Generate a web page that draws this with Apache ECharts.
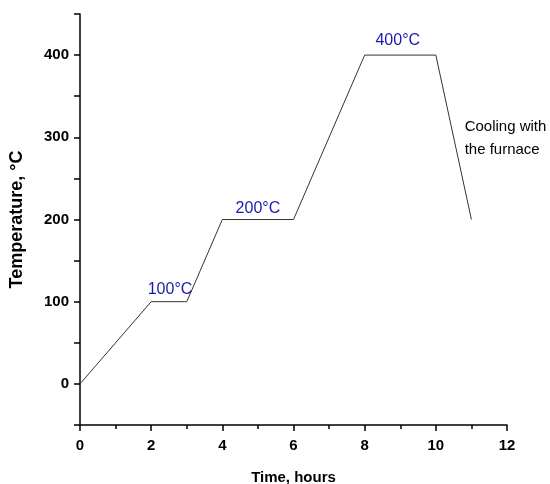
<!DOCTYPE html>
<html>
<head>
<meta charset="utf-8">
<script src="https://cdn.jsdelivr.net/npm/echarts@6/dist/echarts.min.js"></script>
<style>
  html, body { margin: 0; padding: 0; background: #fff; }
  #chart { width: 550px; height: 484px; }
</style>
</head>
<body>
<div id="chart"></div>
<script>
// heating schedule: time (hours) vs temperature (°C)
const timeHours = [0, 2, 3, 4, 6, 8, 10, 11]
const temperature = [0, 100, 100, 200, 200, 400, 400, 200]

// annotations: [x, y, text]
const stageLabels = [
  [2.53, 115, '100°C'],
  [5.0, 213, '200°C'],
  [8.93, 418, '400°C']
]
const coolingNote = [10.81, 299, 'Cooling with\nthe furnace']

const font = 'Liberation Sans, Arial, sans-serif'

const chart = echarts.init(document.getElementById('chart'))
const option = {
  animation: false,
  grid: { left: 80, right: 43, top: 14, bottom: 59, outerBoundsMode: 'none' },
  xAxis: {
    type: 'value',
    min: 0,
    max: 12,
    interval: 2,
    name: 'Time, hours',
    nameLocation: 'middle',
    nameGap: 45,
    nameTextStyle: { fontFamily: font, fontWeight: 'bold', fontSize: 15, color: '#000' },
    axisLine: { show: true, onZero: false, lineStyle: { color: '#000', width: 1.5 } },
    axisTick: { show: true, length: 6, lineStyle: { color: '#000', width: 1.5 } },
    minorTick: { show: true, splitNumber: 2, length: 4, lineStyle: { color: '#000', width: 1.5 } },
    splitLine: { show: false },
    axisLabel: { fontFamily: font, fontWeight: 'bold', fontSize: 15, color: '#000', margin: 13 }
  },
  yAxis: {
    type: 'value',
    min: -50,
    max: 450,
    interval: 50,
    name: 'Temperature, °C',
    nameLocation: 'middle',
    nameGap: 54,
    nameTextStyle: { fontFamily: font, fontWeight: 'bold', fontSize: 18, color: '#000' },
    axisLine: { show: true, onZero: false, lineStyle: { color: '#000', width: 1.5 } },
    axisTick: {
      show: true,
      length: 6,
      lineStyle: { color: '#000', width: 1.5 }
    },
    splitLine: { show: false },
    axisLabel: {
      fontFamily: font, fontWeight: 'bold', fontSize: 15, color: '#000', margin: 11,
      formatter: function (v) { return v % 100 === 0 ? String(v) : '' }
    }
  },
  series: [
    {
      type: 'line',
      data: timeHours.map((t, i) => [t, temperature[i]]),
      symbol: 'none',
      lineStyle: { color: '#333', width: 1 },
      markPoint: {
        symbol: 'circle',
        symbolSize: 0,
        silent: true,
        data: stageLabels.map(s => ({
          coord: [s[0], s[1]],
          label: {
            show: true, formatter: s[2], position: 'inside',
            fontFamily: font, fontSize: 16, color: '#1a1aa8'
          }
        })).concat([{
          coord: [coolingNote[0], coolingNote[1]],
          label: {
            show: true, formatter: coolingNote[2], position: 'right', distance: 0,
            align: 'left', lineHeight: 23,
            fontFamily: font, fontSize: 15, color: '#000'
          }
        }])
      }
    }
  ]
}
chart.setOption(option)
</script>
</body>
</html>
